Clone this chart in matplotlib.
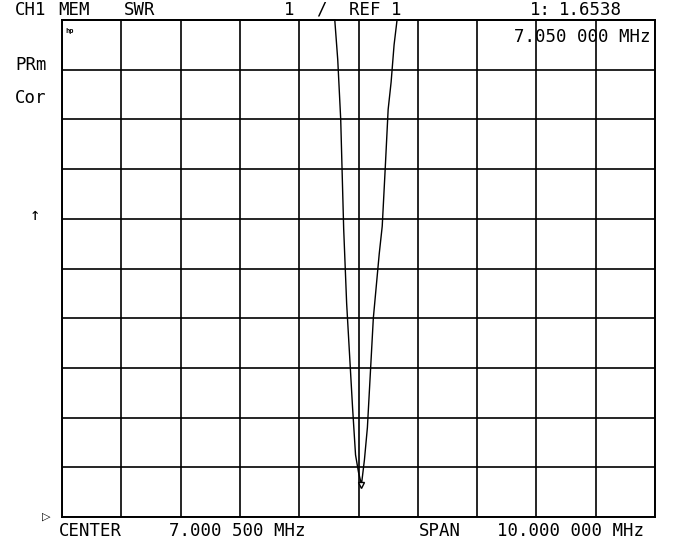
import numpy as np
import matplotlib
matplotlib.use("Agg")
import matplotlib.pyplot as plt

# ---- data ----
center_mhz = 7.0005
span_mhz = 10.0
ref_value = 1.0
scale_per_div = 1.0

freq_mhz = [2.0005, 6.5505, 6.6005, 6.6505, 6.7005, 6.7505, 6.8005, 6.8505,
            6.9005, 6.9505, 7.0005, 7.0505, 7.1005, 7.1505, 7.2005, 7.2505,
            7.3005, 7.3505, 7.4005, 7.4505, 7.5005, 7.5505, 7.6005, 7.6505,
            7.7005, 12.0005]
swr = [30.0, 12.5, 11.4, 10.2, 9.0, 6.8, 5.3, 4.25,
       3.2, 2.25, 1.9, 1.6538, 2.15, 2.8, 3.9, 5.0,
       5.65, 6.3, 6.85, 8.0, 9.2, 9.75, 10.5, 11.6,
       12.5, 30.0]

marker_freq = 7.0505
marker_value = 1.6538

header_left = ["CH1", "MEM", "SWR"]
marker_readout = ["1:", "1.6538"]
marker_freq_text = "7.050 000 MHz"
side_labels = ["PRm", "Cor"]
footer = ["CENTER", "7.000 500 MHz", "SPAN", "10.000 000 MHz"]

# ---- figure ----
W, H = 680, 545
fig = plt.figure(figsize=(W / 100, H / 100), dpi=100)
fig.patch.set_facecolor("white")
ax = fig.add_axes([62 / W, 1 - 517 / H, 593 / W, 497 / H])

xmin = center_mhz - span_mhz / 2
xmax = center_mhz + span_mhz / 2
ymin = ref_value
ymax = ref_value + 10 * scale_per_div
ax.set_xlim(xmin, xmax)
ax.set_ylim(ymin, ymax)
ax.set_xticks(np.linspace(xmin, xmax, 11))
ax.set_yticks(np.linspace(ymin, ymax, 11))
ax.tick_params(length=0, labelbottom=False, labelleft=False)
ax.grid(True, color="black", linewidth=1.2)
for s in ax.spines.values():
    s.set_linewidth(1.4)
    s.set_color("black")

ax.plot(freq_mhz, np.minimum(swr, ymax), color="black", linewidth=1.0,
        clip_on=False, zorder=5)
ax.plot([marker_freq], [marker_value], marker="v", markersize=5,
        markerfacecolor="white", markeredgecolor="black", markeredgewidth=1,
        linestyle="none", zorder=6)

font = dict(family="DejaVu Sans Mono", fontsize=12.5, color="black")

def t(x, y, s, ha="left", **kw):
    d = dict(font)
    d.update(kw)
    fig.text(x / W, 1 - y / H, s, ha=ha, va="center", **d)

t(15, 10, header_left[0])
t(58, 10, header_left[1])
t(124, 10, header_left[2])
t(284, 10, "1")
t(316, 10, "/")
t(349, 10, "REF 1")
t(530, 10, marker_readout[0])
t(559, 10, marker_readout[1])
t(650, 37, marker_freq_text, ha="right")
t(15, 65, side_labels[0])
t(15, 98, side_labels[1])
t(30, 215, "\u2191")
t(59, 531, footer[0])
t(169, 531, footer[1])
t(419, 531, footer[2])
t(497, 531, footer[3])
t(65, 31, "hp", fontsize=5, fontweight="bold")

# reference position marker
fig.text(46 / W, 1 - 517 / H, "\u25b7", ha="center", va="center",
         family="DejaVu Sans", fontsize=8, color="black")

fig.savefig("out.png", dpi=100, facecolor="white")
